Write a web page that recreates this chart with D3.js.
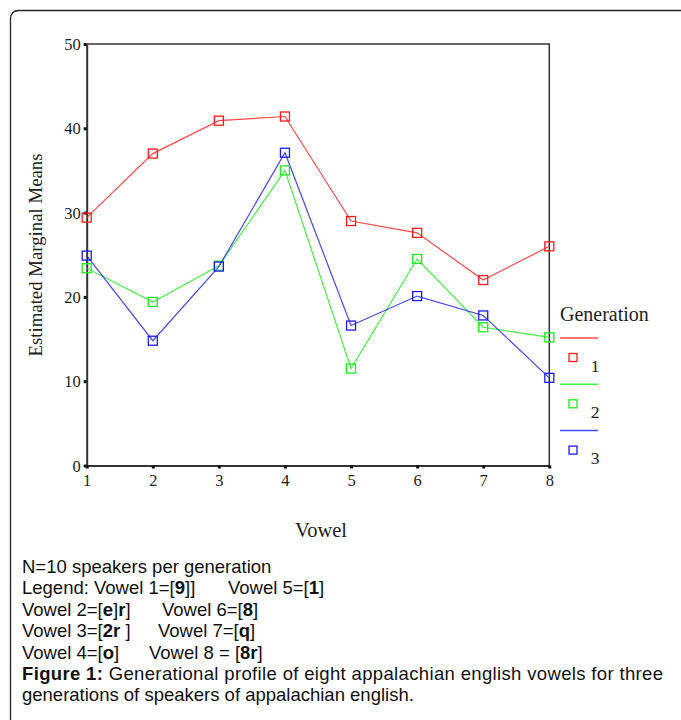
<!DOCTYPE html>
<html>
<head>
<meta charset="utf-8">
<script src="https://cdn.jsdelivr.net/npm/d3@7"></script>
<style>
    body { margin: 0; background: #fff; }
    svg { display: block; }
</style>
</head>
<body>
<script>
// data
var vowels = [1, 2, 3, 4, 5, 6, 7, 8];
var gen1 = [29.4, 37.0, 40.9, 41.4, 29.0, 27.6, 22.0, 26.0];
var gen2 = [23.4, 19.4, 23.7, 35.0, 11.5, 24.5, 16.4, 15.2];
var gen3 = [24.9, 14.8, 23.6, 37.1, 16.6, 20.1, 17.8, 10.4];
var generations = ["1", "2", "3"];
var yTicks = [0, 10, 20, 30, 40, 50];

var seriesColors = ["#ff1a1a", "#1aee1a", "#1a1aff"];
var series = [gen1, gen2, gen3];

var W = 681, H = 720;
var serif = "'Liberation Serif', 'Times New Roman', serif";
var sans = "'Liberation Sans', Arial, sans-serif";

var svg = d3.select("body").append("svg")
    .attr("width", W)
    .attr("height", H);

// outer box with rounded top-left corner
svg.append("path")
    .attr("d", "M10.5," + H + " L10.5,19 Q10.5,10.5 19,10.5 L" + W + ",10.5")
    .attr("fill", "none")
    .attr("stroke", "#222")
    .attr("stroke-width", 1.3);

var x = d3.scaleLinear()
    .domain([1, 8])
    .range([86.7, 549.3]);

var y = d3.scaleLinear()
    .domain([0, 50])
    .range([465.5, 44]);

var plot = svg.append("g");

// frame: top and right
plot.append("path")
    .attr("d", "M" + x(1) + "," + y(50) + " L" + x(8) + "," + y(50) + " L" + x(8) + "," + y(0))
    .attr("fill", "none")
    .attr("stroke", "#333")
    .attr("stroke-width", 1.5);

// Y axis
var yAxis = plot.append("g")
    .attr("transform", "translate(" + x(1) + ",0)")
    .call(d3.axisLeft(y).tickValues(yTicks).tickSize(3).tickSizeOuter(0).tickPadding(3));

// X axis
var xAxis = plot.append("g")
    .attr("transform", "translate(0," + y(0) + ")")
    .call(d3.axisBottom(x).tickValues(vowels).tickFormat(d3.format("d")).tickSize(3).tickSizeOuter(0).tickPadding(6));

[yAxis, xAxis].forEach(function (ax) {
    ax.select(".domain").attr("stroke", "#333").attr("stroke-width", 2);
    ax.selectAll(".tick line").attr("stroke", "#111").attr("stroke-width", 3);
    ax.selectAll(".tick text")
        .attr("fill", "#222")
        .style("font-family", serif)
        .style("font-size", "16.5px");
});
yAxis.selectAll(".tick text").attr("dy", "0.34em");

// lines
var line = d3.line()
    .x(function (d, i) { return x(vowels[i]); })
    .y(function (d) { return y(d); });

series.forEach(function (s, k) {
    plot.append("path")
        .datum(s)
        .attr("d", line)
        .attr("fill", "none")
        .attr("stroke", seriesColors[k])
        .attr("stroke-opacity", 0.8)
        .attr("stroke-width", 1.2);
});

// markers
series.forEach(function (s, k) {
    plot.append("g")
        .selectAll("rect")
        .data(s)
        .enter()
        .append("rect")
        .attr("x", function (d, i) { return x(vowels[i]) - 4.5; })
        .attr("y", function (d) { return y(d) - 4.5; })
        .attr("width", 9)
        .attr("height", 9)
        .attr("fill", "none")
        .attr("stroke", seriesColors[k])
        .attr("stroke-width", 1.3);
});

// axis titles
svg.append("text")
    .attr("transform", "translate(42,255) rotate(-90)")
    .attr("text-anchor", "middle")
    .attr("fill", "#222")
    .style("font-family", serif)
    .style("font-size", "18.8px")
    .text("Estimated Marginal Means");

svg.append("text")
    .attr("x", 321)
    .attr("y", 537)
    .attr("text-anchor", "middle")
    .attr("fill", "#222")
    .style("font-family", serif)
    .style("font-size", "20.5px")
    .text("Vowel");

// legend
var legend = svg.append("g");
legend.append("text")
    .attr("x", 560)
    .attr("y", 321)
    .attr("fill", "#222")
    .style("font-family", serif)
    .style("font-size", "20px")
    .text("Generation");

generations.forEach(function (g, k) {
    var top = 338 + k * 46.3;
    legend.append("line")
        .attr("x1", 560).attr("x2", 598)
        .attr("y1", top).attr("y2", top)
        .attr("stroke", seriesColors[k])
        .attr("stroke-opacity", 0.8)
        .attr("stroke-width", 1.5);
    legend.append("rect")
        .attr("x", 569).attr("y", top + 15.5)
        .attr("width", 8).attr("height", 8)
        .attr("fill", "none")
        .attr("stroke", seriesColors[k])
        .attr("stroke-width", 1.3);
    legend.append("text")
        .attr("x", 595)
        .attr("y", top + 33.5)
        .attr("text-anchor", "middle")
        .attr("fill", "#222")
        .style("font-family", serif)
        .style("font-size", "17.5px")
        .text(g);
});

// caption block
var notes = [
    [["N=10 speakers per generation"]],
    [["Legend: Vowel 1=["], ["9", 1], ["]]"], ["Vowel 5=[", 0, 228], ["1", 1], ["]"]],
    [["Vowel 2=["], ["e", 1], ["]"], ["r", 1], ["]"], ["Vowel 6=[", 0, 162], ["8", 1], ["]"]],
    [["Vowel 3=["], ["2r", 1], [" ]"], ["Vowel 7=[", 0, 158], ["q", 1], ["]"]],
    [["Vowel 4=["], ["o", 1], ["]"], ["Vowel 8 = [", 0, 149], ["8r", 1], ["]"]]
];

var cap = svg.append("g")
    .style("font-family", sans)
    .style("font-size", "18.5px")
    .attr("fill", "#111");

notes.forEach(function (parts, i) {
    var t = cap.append("text")
        .attr("x", 22)
        .attr("y", 573 + i * 21.4)
        .attr("xml:space", "preserve");
    parts.forEach(function (p) {
        var ts = t.append("tspan").text(p[0]);
        if (p[1]) ts.style("font-weight", "bold");
        if (p[2] != null) ts.attr("x", p[2]);
    });
});

var fig = cap.append("text")
    .attr("x", 22)
    .attr("y", 573 + 5 * 21.4)
    .attr("textLength", 641)
    .attr("lengthAdjust", "spacing");
fig.append("tspan").style("font-weight", "bold").text("Figure 1:");
fig.append("tspan").text(" Generational profile of eight appalachian english vowels for three");

cap.append("text")
    .attr("x", 22)
    .attr("y", 573 + 6 * 21.4)
    .text("generations of speakers of appalachian english.");
</script>
</body>
</html>
